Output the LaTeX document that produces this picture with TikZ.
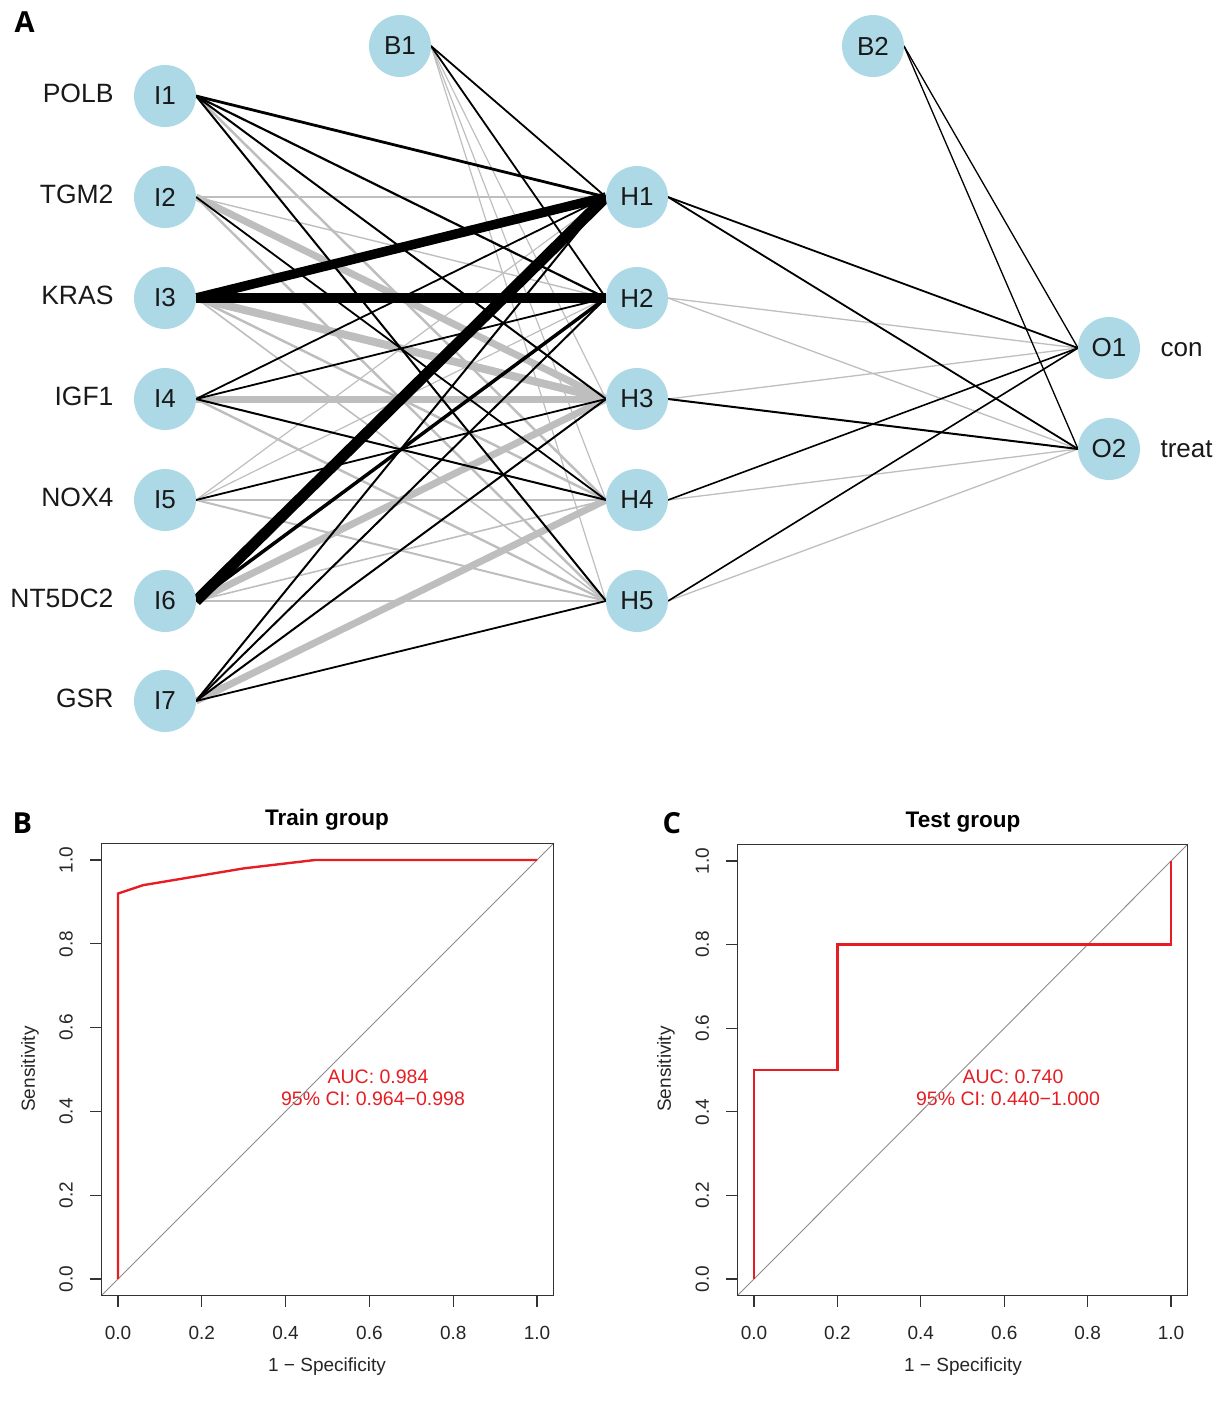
\documentclass[tikz,border=0pt]{standalone}
\usepackage{fontspec}
\setmainfont{Liberation Sans}
\newfontfamily\panelfont{Open Sans}
\usetikzlibrary{backgrounds}
\definecolor{nodeblue}{HTML}{ADD8E6}
\definecolor{wgray}{HTML}{BEBEBE}
\definecolor{rocred}{RGB}{230,30,35}
\begin{document}
\begin{tikzpicture}[x=1pt,y=-1pt,
  neuron/.style={circle,fill=nodeblue,minimum size=62pt,inner sep=0pt,outer sep=0pt,
    font=\fontsize{26}{26}\selectfont,text=black!90},
  wpos/.style={draw=black,line width=#1},
  wneg/.style={draw=wgray,line width=#1},
  glabel/.style={anchor=base east,font=\fontsize{26.5}{26.5}\selectfont,text=black!90},
  olabel/.style={anchor=base west,font=\fontsize{26}{26}\selectfont,text=black!90},
  panel/.style={anchor=base west,font=\panelfont\bfseries\fontsize{29}{29}\selectfont},
  tick/.style={font=\fontsize{19}{19}\selectfont,text=black!85},
  ptitle/.style={font=\bfseries\fontsize{22.5}{22.5}\selectfont},
  auc/.style={font=\fontsize{19.5}{19.5}\selectfont,text=rocred},
  axisbox/.style={draw=black!80,line width=1.4pt},
  diag/.style={draw=black!45,line width=0.9pt},
  roc/.style={draw=rocred,line width=2.4pt,line join=miter}]
\useasboundingbox (0,0) rectangle (1217,1403);

% ---------------- Panel A: network ----------------
\node[panel] (pA) at (11,32) {A};

\foreach \n/\y in {1/96,2/197,3/298,4/399,5/500,6/601,7/701}
  \node[neuron] (I\n) at (165,\y) {I\n};
\foreach \n/\y in {1/197,2/298,3/399,4/500,5/601}
  \node[neuron] (H\n) at (637,\y) {H\n};
\node[neuron] (B1) at (400,46) {B1};
\node[neuron] (B2) at (873,46) {B2};
\node[neuron] (O1) at (1109,348) {O1};
\node[neuron] (O2) at (1109,449) {O2};

\node[glabel] (l1) at (117,102) {POLB};
\node[glabel] (l2) at (117,203) {TGM2};
\node[glabel] (l3) at (117,304) {KRAS};
\node[glabel] (l4) at (117,405) {IGF1};
\node[glabel] (l5) at (117,506) {NOX4};
\node[glabel] (l6) at (117,607) {NT5DC2};
\node[glabel] (l7) at (117,707) {GSR};
\node[olabel] (lo1) at (1157,356) {con};
\node[olabel] (lo2) at (1157,457) {treat};

\begin{scope}[on background layer]
  % gray (negative) weights first
  \draw[wneg=2.5] (I1.east) -- (H4.west);
  \draw[wneg=1.6] (I2.east) -- (H1.west);
  \draw[wneg=1.4] (I2.east) -- (H2.west);
  \draw[wneg=7]   (I2.east) -- (H3.west);
  \draw[wneg=2.4] (I2.east) -- (H5.west);
  \draw[wneg=8]   (I3.east) -- (H3.west);
  \draw[wneg=2.5] (I3.east) -- (H4.west);
  \draw[wneg=1.6] (I3.east) -- (H5.west);
  \draw[wneg=7]   (I4.east) -- (H3.west);
  \draw[wneg=2.4] (I4.east) -- (H5.west);
  \draw[wneg=1.2] (I5.east) -- (H1.west);
  \draw[wneg=1.2] (I5.east) -- (H2.west);
  \draw[wneg=1.6] (I5.east) -- (H4.west);
  \draw[wneg=2]   (I5.east) -- (H5.west);
  \draw[wneg=7]   (I6.east) -- (H3.west);
  \draw[wneg=1.6] (I6.east) -- (H4.west);
  \draw[wneg=1.6] (I6.east) -- (H5.west);
  \draw[wneg=7]   (I7.east) -- (H4.west);
  \draw[wneg=1.2] (B1.east) -- (H3.west);
  \draw[wneg=1.2] (B1.east) -- (H4.west);
  \draw[wneg=1.2] (B1.east) -- (H5.west);
  % black (positive) weights
  \draw[wpos=2.8] (I1.east) -- (H1.west);
  \draw[wpos=2.2] (I1.east) -- (H2.west);
  \draw[wpos=2]   (I1.east) -- (H3.west);
  \draw[wpos=2]   (I1.east) -- (H5.west);
  \draw[wpos=1.8] (I2.east) -- (H4.west);
  \draw[wpos=9.5] (I3.east) -- (H1.west);
  \draw[wpos=9.5] (I3.east) -- (H2.west);
  \draw[wpos=1.8] (I4.east) -- (H1.west);
  \draw[wpos=1.8] (I4.east) -- (H2.west);
  \draw[wpos=2]   (I4.east) -- (H4.west);
  \draw[wpos=1.8] (I5.east) -- (H3.west);
  \draw[wpos=11]  (I6.east) -- (H1.west);
  \draw[wpos=3.5] (I6.east) -- (H2.west);
  \draw[wpos=2]   (I7.east) -- (H1.west);
  \draw[wpos=2]   (I7.east) -- (H2.west);
  \draw[wpos=2]   (I7.east) -- (H3.west);
  \draw[wpos=1.8] (I7.east) -- (H5.west);
  \draw[wpos=1.8] (B1.east) -- (H1.west);
  \draw[wpos=1.8] (B1.east) -- (H2.west);
  % hidden -> output
  \draw[wneg=1.3] (H2.east) -- (O1.west);
  \draw[wneg=1.3] (H2.east) -- (O2.west);
  \draw[wneg=1.3] (H3.east) -- (O1.west);
  \draw[wneg=1.3] (H4.east) -- (O2.west);
  \draw[wneg=1.3] (H5.east) -- (O2.west);
  \draw[wpos=1.8] (H1.east) -- (O1.west);
  \draw[wpos=1.8] (H1.east) -- (O2.west);
  \draw[wpos=2]   (H3.east) -- (O2.west);
  \draw[wpos=1.6] (H4.east) -- (O1.west);
  \draw[wpos=1.6] (H5.east) -- (O1.west);
  \draw[wpos=1.3] (B2.east) -- (O1.west);
  \draw[wpos=1.3] (B2.east) -- (O2.west);
\end{scope}

% ---------------- Panel B: Train ROC ----------------
\node[panel] (pB) at (9,833) {B};
\node[ptitle] (tB) at (327,820) {Train group};
\node[tick] (xB) at (327,1367) {1 − Specificity};
\node[tick,rotate=90] (yB) at (30,1069) {Sensitivity};
\node[auc] (aB1) at (378,1077) {AUC: 0.984};
\node[auc] (aB2) at (373,1099) {95\% CI: 0.964−0.998};
\begin{scope}[shift={(118pt,-1279pt)},x=419pt,y=419pt]
  \draw[diag] (-0.04,-0.04) -- (1.04,1.04);
  \draw[roc] (0,0) -- (0,0.92) -- (0.06,0.94) -- (0.3,0.98) -- (0.47,1) -- (1,1);
  \draw[axisbox] (-0.04,-0.04) rectangle (1.04,1.04);
  \foreach \t/\l in {0/0.0,0.2/0.2,0.4/0.4,0.6/0.6,0.8/0.8,1/1.0}{
    \draw[black!80,line width=1.2pt] (\t,-0.04) -- (\t,-0.066);
    \draw[black!80,line width=1.2pt] (-0.04,\t) -- (-0.066,\t);
    \node[tick] at (\t,-0.128) {\l};
    \node[tick,rotate=90] at (-0.124,\t) {\l};
  }
\end{scope}

% ---------------- Panel C: Test ROC ----------------
\node[panel] (pC) at (659,833) {C};
\node[ptitle] (tC) at (963,822) {Test group};
\node[tick] (xC) at (963,1367) {1 − Specificity};
\node[tick,rotate=90] (yC) at (666,1069) {Sensitivity};
\node[auc] (aC1) at (1013,1077) {AUC: 0.740};
\node[auc] (aC2) at (1008,1099) {95\% CI: 0.440−1.000};
\begin{scope}[shift={(754pt,-1279pt)},x=417pt,y=418pt]
  \draw[diag] (-0.04,-0.04) -- (1.04,1.04);
  \draw[roc] (0,0) -- (0,0.5) -- (0.2,0.5) -- (0.2,0.8) -- (1,0.8) -- (1,1);
  \draw[axisbox] (-0.04,-0.04) rectangle (1.04,1.04);
  \foreach \t/\l in {0/0.0,0.2/0.2,0.4/0.4,0.6/0.6,0.8/0.8,1/1.0}{
    \draw[black!80,line width=1.2pt] (\t,-0.04) -- (\t,-0.066);
    \draw[black!80,line width=1.2pt] (-0.04,\t) -- (-0.066,\t);
    \node[tick] at (\t,-0.128) {\l};
    \node[tick,rotate=90] at (-0.124,\t) {\l};
  }
\end{scope}
\end{tikzpicture}
\end{document}
